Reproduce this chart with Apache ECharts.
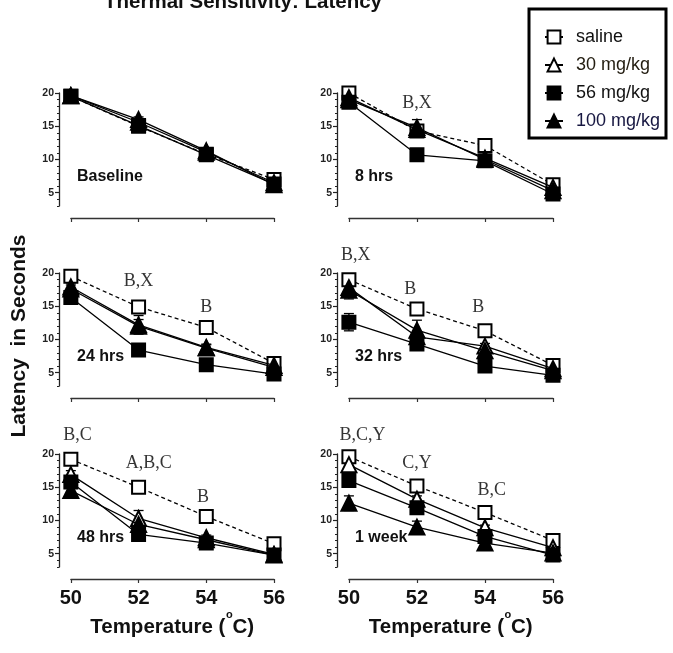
<!DOCTYPE html>
<html>
<head>
<meta charset="utf-8">
<script src="https://cdn.jsdelivr.net/npm/echarts@6/dist/echarts.min.js"></script>
<style>
  html, body { margin: 0; padding: 0; background: #fff; }
  #chart { width: 673px; height: 653px; }
</style>
</head>
<body>
<div id="chart"></div>
<script>
// temperatures on the x axis
const temps = [50, 52, 54, 56];
const groups = ['saline', '30 mg/kg', '56 mg/kg', '100 mg/kg'];
const panelNames = ['Baseline', '8 hrs', '24 hrs', '32 hrs', '48 hrs', '1 week'];
const yTicks = [5, 10, 15, 20];

// latency in seconds, rows: saline, 30, 56, 100 mg/kg
const baseline = [[19.5, 15.0, 10.8, 7.0], [19.6, 15.6, 11.1, 6.5], [19.5, 15.1, 10.7, 6.3], [19.6, 16.0, 11.3, 6.2]];
const hrs8 = [[20.0, 14.3, 12.1, 6.2], [19.3, 14.5, 10.2, 5.8], [18.6, 10.7, 9.8, 4.8], [19.0, 14.8, 10.0, 5.3]];
const hrs24 = [[19.5, 14.9, 11.8, 6.4], [17.9, 12.2, 8.8, 6.1], [16.3, 8.4, 6.2, 4.8], [17.6, 12.0, 8.7, 5.8]];
const hrs32 = [[19.0, 14.6, 11.3, 6.1], [17.8, 10.4, 9.0, 5.6], [12.6, 9.3, 6.0, 4.6], [17.4, 11.4, 8.3, 5.3]];
const hrs48 = [[19.2, 15.0, 10.6, 6.5], [16.9, 10.3, 7.4, 4.9], [15.8, 7.9, 6.6, 4.8], [14.5, 9.4, 7.1, 4.8]];
const week1 = [[19.6, 15.2, 11.2, 7.0], [18.4, 13.2, 8.9, 5.9], [16.0, 11.9, 7.6, 4.8], [12.6, 9.0, 6.6, 5.1]];

// SEM, same layout
const baselineErr = [[0.4, 0.4, 0.4, 0.4], [0.4, 0.4, 0.4, 0.4], [0.4, 0.4, 0.4, 0.4], [0.4, 0.4, 0.4, 0.4]];
const hrs8Err = [[0.4, 0.4, 0.4, 0.3], [0.4, 0.5, 0.4, 0.3], [0.4, 0.4, 0.4, 0.3], [0.5, 1.2, 0.5, 0.3]];
const hrs24Err = [[0.4, 0.4, 0.4, 0.3], [0.6, 1.4, 0.5, 0.3], [0.8, 0.5, 0.4, 0.3], [0.6, 1.0, 0.5, 0.3]];
const hrs32Err = [[0.4, 0.4, 0.4, 0.3], [0.5, 0.5, 0.4, 0.3], [1.3, 0.6, 0.4, 0.3], [1.3, 1.5, 0.5, 0.3]];
const hrs48Err = [[0.4, 0.4, 0.4, 0.3], [0.6, 1.2, 0.4, 0.3], [0.8, 0.5, 0.4, 0.3], [0.9, 0.6, 0.4, 0.3]];
const week1Err = [[0.4, 0.4, 0.4, 0.3], [0.5, 0.5, 0.4, 0.3], [0.5, 0.5, 0.4, 0.3], [1.1, 0.9, 0.4, 0.3]];

// significance letters: [text, temperature, latency]
const baselineNotes = [];
const hrs8Notes = [['B,X', 52, 18.5]];
const hrs24Notes = [['B,X', 52, 18.7], ['B', 54, 14.8]];
const hrs32Notes = [['B,X', 50.2, 22.7], ['B', 51.8, 17.5], ['B', 53.8, 14.8]];
const hrs48Notes = [['B,C', 50.2, 22.8], ['A,B,C', 52.3, 18.6], ['B', 53.9, 13.5]];
const week1Notes = [['B,C,Y', 50.4, 22.8], ['C,Y', 52.0, 18.6], ['B,C', 54.2, 14.6]];

const panelData = [baseline, hrs8, hrs24, hrs32, hrs48, week1];
const panelErr = [baselineErr, hrs8Err, hrs24Err, hrs32Err, hrs48Err, week1Err];
const panelNotes = [baselineNotes, hrs8Notes, hrs24Notes, hrs32Notes, hrs48Notes, week1Notes];

// layout
const SANS = 'Liberation Sans';
const SERIF = 'Liberation Serif';
const rowTop = [93, 273, 454];
const colLeft = [59, 337];
const colWidth = [215, 216];
const plotH = 113;
const xMin = 49.65, xMax = 56;

const markers = [
  { symbol: 'rect', size: 13, fill: '#fff', dash: [4, 3] },
  { symbol: 'triangle', size: 15, fill: '#fff', dash: 'solid' },
  { symbol: 'rect', size: 13, fill: '#000', dash: 'solid' },
  { symbol: 'triangle', size: 15, fill: '#000', dash: 'solid' }
];

function renderErr(params, api) {
  const x = api.value(0);
  const lo = api.coord([x, api.value(1)]);
  const hi = api.coord([x, api.value(2)]);
  const st = { stroke: '#000', lineWidth: 1.3 };
  const cap = 5;
  return {
    type: 'group',
    children: [
      { type: 'line', shape: { x1: lo[0], y1: lo[1], x2: hi[0], y2: hi[1] }, style: st },
      { type: 'line', shape: { x1: hi[0] - cap, y1: hi[1], x2: hi[0] + cap, y2: hi[1] }, style: st },
      { type: 'line', shape: { x1: lo[0] - cap, y1: lo[1], x2: lo[0] + cap, y2: lo[1] }, style: st }
    ]
  };
}

const grid = [], xAxis = [], yAxis = [], series = [], graphic = [];

panelNames.forEach(function (name, p) {
  const row = Math.floor(p / 2), col = p % 2;
  const left = colLeft[col], top = rowTop[row], w = colWidth[col];
  // data grid
  grid[p] = { left: left, top: top, width: w, height: plotH };
  xAxis[p] = { type: 'value', gridIndex: p, min: xMin, max: xMax, show: false };
  yAxis[p] = {
    type: 'value', gridIndex: p, position: 'left', min: 3, max: 20, interval: 1,
    axisLine: { show: true, lineStyle: { color: '#222', width: 1.3 } },
    axisTick: { show: true, length: 2, lineStyle: { color: '#222', width: 1 } },
    axisLabel: {
      margin: 5, fontFamily: SANS, fontWeight: 'bold', fontSize: 10.5, color: '#222',
      formatter: function (v) { return yTicks.indexOf(v) >= 0 ? String(v) : ''; }
    },
    splitLine: { show: false }
  };
  yAxis[6 + p] = {
    type: 'value', gridIndex: p, position: 'left', offset: 0, min: 3, max: 20,
    axisLine: { show: false }, axisLabel: { show: false }, splitLine: { show: false },
    axisTick: { show: true, length: 4, customValues: yTicks, lineStyle: { color: '#222', width: 1.2 } }
  };

  // detached x axis below the panel
  const x50 = left + (50 - xMin) / (xMax - xMin) * w;
  const xw = (56 - 50) / (xMax - xMin) * w;
  grid[6 + p] = { left: x50, top: top + 124, width: xw, height: 1 };
  const bottomRow = row === 2;
  xAxis[6 + p] = {
    type: 'value', gridIndex: 6 + p, min: 50, max: 56, interval: 2,
    axisLine: { show: true, lineStyle: { color: '#333', width: 1.3 } },
    axisTick: { show: true, length: 4, lineStyle: { color: '#333', width: 1.2 } },
    axisLabel: {
      show: bottomRow, margin: 9, fontFamily: SANS, fontWeight: 'bold', fontSize: 20, color: '#111'
    },
    splitLine: { show: false }
  };
  yAxis[12 + p] = { type: 'value', gridIndex: 6 + p, min: 0, max: 1, show: false };

  if (bottomRow) {
    // axis title with a raised degree "o"
    const c = x50 + xw / 2 - 2;
    const ty = 627;
    const font = { fontFamily: SANS, fontWeight: 'bold', fill: '#111', verticalAlign: 'middle' };
    graphic.push({ type: 'text', x: c + 55, y: ty,
      style: Object.assign({ text: 'Temperature (', fontSize: 20.5, align: 'right' }, font) });
    graphic.push({ type: 'text', x: c + 59, y: ty - 12,
      style: Object.assign({ text: 'o', fontSize: 11, align: 'center' }, font) });
    graphic.push({ type: 'text', x: c + 62, y: ty,
      style: Object.assign({ text: 'C)', fontSize: 20.5, align: 'left' }, font) });
  }

  const vals = panelData[p], errs = panelErr[p];

  // error bars
  const errData = [];
  groups.forEach(function (g, gi) {
    temps.forEach(function (t, i) {
      const v = vals[gi][i], e = errs[gi][i];
      errData.push([t, v - e, v + e]);
    });
  });
  series.push({
    type: 'custom', xAxisIndex: p, yAxisIndex: p, renderItem: renderErr,
    data: errData, z: 1, silent: true, clip: false
  });

  groups.forEach(function (g, gi) {
    const m = markers[gi];
    series.push({
      name: g, type: 'line', xAxisIndex: p, yAxisIndex: p,
      data: temps.map(function (t, i) { return [t, vals[gi][i]]; }),
      symbol: m.symbol, symbolSize: m.size, showSymbol: true, clip: false,
      itemStyle: { color: m.fill, borderColor: '#000', borderWidth: 2, opacity: 1 },
      lineStyle: { color: '#000', width: 1.3, type: m.dash },
      emphasis: { disabled: true }, silent: true, z: 2 + gi
    });
  });

  // significance letters
  series.push({
    type: 'scatter', xAxisIndex: p, yAxisIndex: p, clip: false, silent: true, z: 10,
    symbol: 'circle', symbolSize: 1, itemStyle: { color: 'rgba(0,0,0,0)' },
    data: panelNotes[p].map(function (n) { return [n[1], n[2], n[0]]; }),
    label: {
      show: true, position: 'inside', fontFamily: SERIF, fontSize: 18, color: '#000',
      formatter: function (d) { return d.data[2]; }
    }
  });

  // panel label
  graphic.push({
    type: 'text', left: left + 18, top: top + 85 - 9,
    style: { text: name, fontFamily: SANS, fontWeight: 'bold', fontSize: 16, fill: '#111' }
  });
});

// title (partly cut off at the top edge)
graphic.push({
  type: 'text', x: 243, y: 2,
  style: { text: 'Thermal Sensitivity: Latency', fontFamily: SANS, fontWeight: 'bold', fontSize: 20.5,
    fill: '#111', align: 'center', verticalAlign: 'middle' }
});
// y axis title
graphic.push({
  type: 'text', x: 19, y: 336, rotation: Math.PI / 2,
  style: { text: 'Latency  in Seconds', fontFamily: SANS, fontWeight: 'bold', fontSize: 21,
    fill: '#111', align: 'center', verticalAlign: 'middle' }
});
// legend frame
graphic.push({
  type: 'rect', shape: { x: 529, y: 9, width: 137, height: 129 },
  style: { fill: 'none', stroke: '#000', lineWidth: 3 }, z: 100
});

const chart = echarts.init(document.getElementById('chart'), null, { renderer: 'canvas' });
chart.setOption({
  animation: false,
  backgroundColor: '#fff',
  grid: grid,
  xAxis: xAxis,
  yAxis: yAxis,
  legend: {
    orient: 'vertical', left: 544, top: 28, padding: 0,
    itemWidth: 18, itemHeight: 16, itemGap: 10,
    selectedMode: false,
    data: [
      { name: 'saline', textStyle: { color: '#111' } },
      { name: '30 mg/kg', textStyle: { color: '#221c10' } },
      { name: '56 mg/kg', textStyle: { color: '#111' } },
      { name: '100 mg/kg', textStyle: { color: '#161640' } }
    ],
    textStyle: { fontFamily: SANS, fontSize: 18, padding: [0, 0, 0, 8] }
  },
  graphic: graphic,
  series: series
});
</script>
</body>
</html>
